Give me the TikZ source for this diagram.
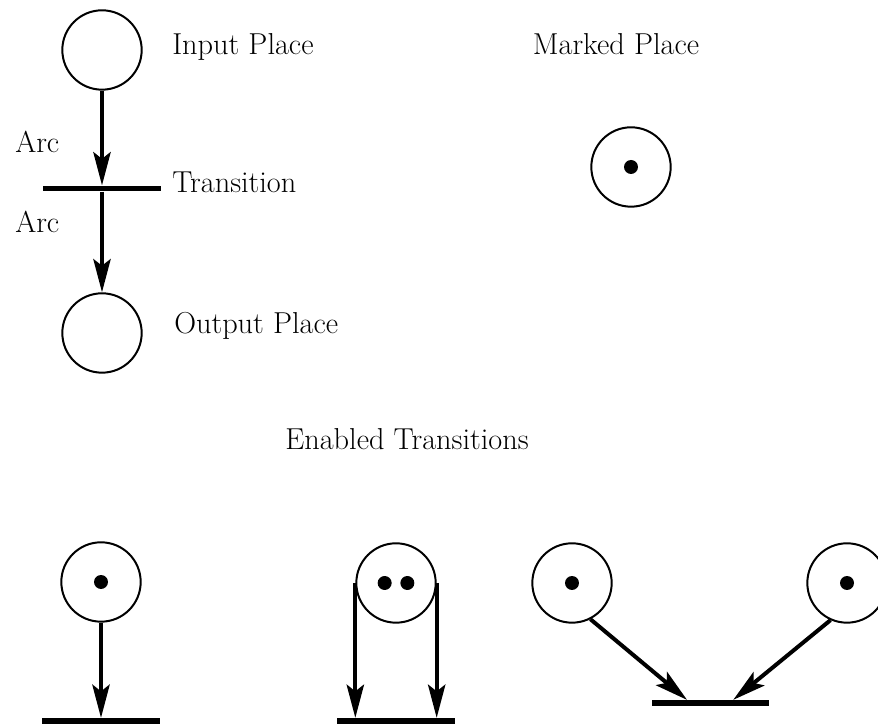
\documentclass[tikz,border=0pt]{standalone}
\usepackage{tikz}
\usetikzlibrary{arrows.meta}
\usetikzlibrary{positioning}

\tikzset{
  placenode/.style={circle, draw, line width=1.5pt, minimum size=21mm, inner sep=0pt},
  tokennode/.style={circle, fill, minimum size=3.7mm, inner sep=0pt},
  transbar/.style={rectangle, fill, minimum width=31mm, minimum height=1.5mm, inner sep=0pt},
  arcline/.style={line width=3pt, -{Stealth[length=25pt, width=13pt, inset=5pt]}},
  lbl/.style={font=\fontsize{22.8}{27}\selectfont, inner sep=0pt}
}

\begin{document}
\begin{tikzpicture}[x=2.646mm, y=2.646mm]
	\useasboundingbox (0,0) rectangle (87.8,72.4);
	% legend
	\node[placenode] (pin) at (10.2,67.4) {};
	\node[transbar] (tin) at (10.2,53.55) {};
	\node[placenode] (pout) at (10.2,39.1) {};
	\draw[arcline] (pin) -- (tin); % input arc
	\draw[arcline] (tin) -- (pout); % output arc
	\node[lbl, anchor=base west] (lin) at (17.2,66.9) {Input Place};
	\node[lbl, anchor=base west] (ltr) at (17.2,53.1) {Transition};
	\node[lbl, anchor=base west] (lout) at (17.4,39.0) {Output Place};
	\node[lbl, anchor=base west] (larc1) at (1.5,57.1) {Arc};
	\node[lbl, anchor=base west] (larc2) at (1.5,49.1) {Arc};
	% marked place
	\node[lbl, anchor=base] (lmk) at (61.6,66.9) {Marked Place};
	\node[placenode] (pm) at (63.1,55.7) {};
	\node[tokennode] (km) at (pm) {};
	% enabled transitions
	\node[lbl, anchor=base] (len) at (40.7,27.4) {Enabled Transitions};
	\node[placenode] (pb1) at (10.1,14.2) {};
	\node[tokennode] (kb1) at (pb1) {};
	\node[transbar] (tb1) at (10.1,0.3) {};
	\draw[arcline] (pb1) -- (tb1);
	\node[placenode] (pb2) at (39.6,14.1) {};
	\node[tokennode] (kb2a) at ([xshift=-3mm]pb2.center) {};
	\node[tokennode] (kb2b) at ([xshift=3mm]pb2.center) {};
	\node[transbar] (tb2) at (39.6,0.3) {};
	\draw[arcline] (pb2.west) -- (pb2.west |- tb2.north);
	\draw[arcline] (pb2.east) -- (pb2.east |- tb2.north);
	\node[placenode] (pb3) at (57.2,14.1) {};
	\node[tokennode] (kb3) at (pb3) {};
	\node[placenode] (pb4) at (84.7,14.1) {};
	\node[tokennode] (kb4) at (pb4) {};
	\node[transbar] (tb3) at (71.05,2.1) {};
	\draw[arcline] (pb3.-63) -- ([xshift=-6.2mm]tb3.north);
	\draw[arcline] (pb4.246) -- ([xshift=6mm]tb3.north);
\end{tikzpicture}
\end{document}
